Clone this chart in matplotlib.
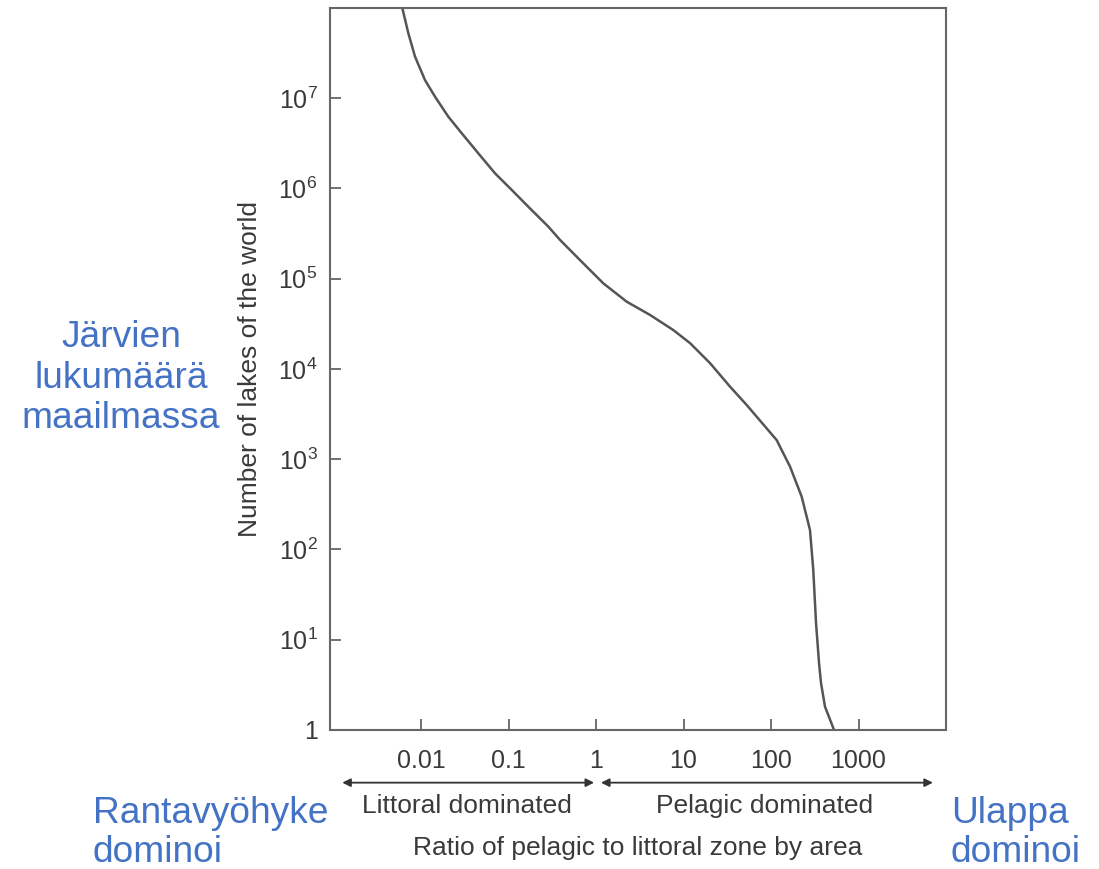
import matplotlib
matplotlib.use('Agg')
import matplotlib.pyplot as plt

plt.rcParams['font.family'] = ['Liberation Sans', 'DejaVu Sans']
plt.rcParams['mathtext.fontset'] = 'custom'
plt.rcParams['mathtext.rm'] = 'Liberation Sans'
plt.rcParams['mathtext.it'] = 'Liberation Sans'

# curve (ratio, number of lakes)
ratio = [0.00611, 0.00716, 0.00854, 0.0111, 0.01445, 0.0205, 0.0292, 0.0452,
         0.0702, 0.109, 0.168, 0.285, 0.388, 0.656, 1.21, 2.24, 4.14, 7.64,
         11.9, 20.1, 34.0, 52.7, 116, 165, 224, 279, 304, 327, 354,
         373, 414, 525]
lakes = [1e8, 5.25e7, 2.89e7, 1.59e7, 1.04e7, 6.25e6, 4.09e6, 2.45e6,
         1.47e6, 9.62e5, 6.29e5, 3.78e5, 2.69e5, 1.61e5, 8.9e4, 5.57e4, 3.97e4, 2.70e4,
         1.93e4, 1.16e4, 6.37e3, 3.99e3, 1.63e3, 828, 385, 164, 59.3, 15.2, 5.48,
         3.29, 1.81, 1]

xticks = [0.01, 0.1, 1, 10, 100, 1000]
xlabels = ['0.01', '0.1', '1', '10', '100', '1000']
yticks = [1, 1e1, 1e2, 1e3, 1e4, 1e5, 1e6, 1e7]
ylabels = ['1', '$10^{1}$', '$10^{2}$', '$10^{3}$', '$10^{4}$',
           '$10^{5}$', '$10^{6}$', '$10^{7}$']

grey = '#3a3a3a'
blue = '#4472C4'

fig = plt.figure(figsize=(10.99, 8.69), dpi=100)
ax = fig.add_axes([0.3003, 0.160, 0.5605, 0.8308])
ax.plot(ratio, lakes, color='#555555', lw=1.8, solid_joinstyle='round')
ax.set_xscale('log')
ax.set_yscale('log')
ax.set_xlim(10 ** -3.04, 1e4)
ax.set_ylim(1, 1e8)
ax.set_xticks(xticks)
ax.set_xticklabels(xlabels)
ax.set_yticks(yticks)
ax.set_yticklabels(ylabels)
ax.minorticks_off()
ax.tick_params(direction='in', length=8, width=1.3, color='#666666',
               labelsize=18, labelcolor=grey)
ax.tick_params(axis='x', pad=14)
ax.tick_params(axis='y', pad=9)
for s in ax.spines.values():
    s.set_color('#666666')
    s.set_linewidth(1.5)

ax.set_ylabel('Number of lakes of the world', fontsize=19, color=grey, labelpad=12)

# arrows under the x axis
trans = ax.get_xaxis_transform()
ax.annotate('', xy=(10 ** -2.9, -0.073), xytext=(0.95, -0.073), xycoords=trans,
            arrowprops=dict(arrowstyle='<|-|>', color='#333333', lw=1.3,
                            mutation_scale=12, shrinkA=0, shrinkB=0),
            annotation_clip=False)
ax.annotate('', xy=(1.14, -0.073), xytext=(10 ** 3.85, -0.073), xycoords=trans,
            arrowprops=dict(arrowstyle='<|-|>', color='#333333', lw=1.3,
                            mutation_scale=12, shrinkA=0, shrinkB=0),
            annotation_clip=False)

fig.text(467 / 1099, 1 - 806 / 869, 'Littoral dominated', fontsize=19, color=grey,
         ha='center', va='center')
fig.text(765 / 1099, 1 - 806 / 869, 'Pelagic dominated', fontsize=19, color=grey,
         ha='center', va='center')
fig.text(638 / 1099, 1 - 848 / 869, 'Ratio of pelagic to littoral zone by area',
         fontsize=19, color=grey, ha='center', va='center')

# blue Finnish labels
fig.text(121 / 1099, 1 - 378 / 869, 'Järvien\nlukumäärä\nmaailmassa', fontsize=26.7,
         color=blue, ha='center', va='center', linespacing=1.2)
for x0, lines in [(93, ['Rantavyöhyke', 'dominoi']), (951, ['Ulappa', 'dominoi'])]:
    fig.text(x0 / 1099, 1 - 823 / 869, lines[0], fontsize=26.7, color=blue,
             ha='left', va='baseline')
    fig.text(x0 / 1099, 1 - 862 / 869, lines[1], fontsize=26.7, color=blue,
             ha='left', va='baseline')

fig.savefig('out.png', dpi=100)
